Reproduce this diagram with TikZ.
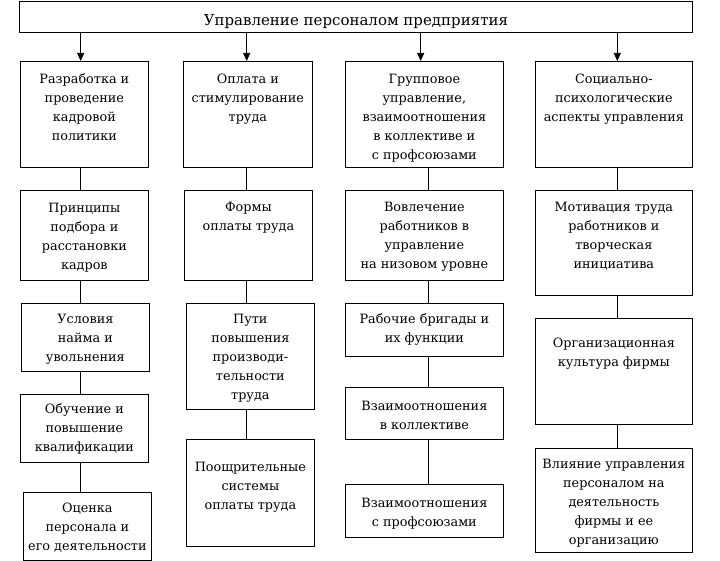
\documentclass[tikz,border=0pt]{standalone}
\usepackage{fontspec}
\setmainfont{DejaVu Serif}
\usetikzlibrary{arrows.meta}

\newcommand{\celltext}[4]{\parbox[c][#2pt][t]{#1pt}{\centering\rule{0pt}{#3pt}#4}}

\begin{document}
\begin{tikzpicture}[x=1pt, y=-1pt, line width=0.75pt,
  blk/.style={draw, inner sep=0pt, anchor=north west, font=\fontsize{12.8}{19}\selectfont},
  arr/.style={-{Triangle[length=8pt,width=7pt]}}]

\useasboundingbox (0,0) rectangle (720,561);

\node[blk, font=\fontsize{15}{22}\selectfont] (upr) at (19,1) {\celltext{673}{31}{24}{Управление персоналом предприятия}};

% column lines
\coordinate (xa) at (80.7,0);
\coordinate (xb) at (246.7,0);
\coordinate (xc0) at (420.7,0);
\coordinate (xc) at (428.3,0);
\coordinate (xd) at (617.3,0);

\node[blk] (a1) at (20,61) {\celltext{128}{106}{22}{Разработка и\\ проведение\\ кадровой\\ политики}};
\node[blk] (a2) at (20,190) {\celltext{128}{90}{21.7}{Принципы\\ подбора и\\ расстановки\\ кадров}};
\node[blk] (a3) at (21,303) {\celltext{128}{68}{20}{Условия\\ найма и\\ увольнения}};
\node[blk] (a4) at (20,394) {\celltext{128}{68}{19}{Обучение и\\ повышение\\ квалификации}};
\node[blk] (a5) at (23,492) {\celltext{128}{68}{20}{Оценка\\ персонала и\\ его деятельности}};

\node[blk] (b1) at (183,61) {\celltext{129}{106}{22}{Оплата и\\ стимулирование\\ труда}};
\node[blk] (b2) at (184,190) {\celltext{128}{90}{21}{Формы\\ оплаты труда}};
\node[blk] (b3) at (186,303) {\celltext{128}{106}{20}{Пути\\ повышения\\ производи-\\ тельности\\ труда}};
\node[blk] (b4) at (186,439) {\celltext{128}{107}{31.7}{Поощрительные\\ системы\\ оплаты труда}};

\node[blk] (c1) at (345,61) {\celltext{158}{106}{22}{Групповое\\ управление,\\ взаимоотношения\\ в коллективе и\\ с профсоюзами}};
\node[blk] (c2) at (345,190) {\celltext{158}{90}{21}{Вовлечение\\ работников в\\ управление\\ на низовом уровне}};
\node[blk] (c3) at (345,303) {\celltext{158}{53}{20}{Рабочие бригады и\\ их функции}};
\node[blk] (c4) at (345,387) {\celltext{158}{52}{23}{Взаимоотношения\\ в коллективе}};
\node[blk] (c5) at (345,484) {\celltext{158}{53}{22.7}{Взаимоотношения\\ с профсоюзами}};

\node[blk] (d1) at (535,61) {\celltext{157}{106}{22}{Социально-\\ психологические\\ аспекты управления}};
\node[blk] (d2) at (535,190) {\celltext{157}{105}{21}{Мотивация труда\\ работников и\\ творческая\\ инициатива}};
\node[blk] (d3) at (535,318) {\celltext{157}{106}{28.7}{Организационная\\ культура фирмы}};
\node[blk] (d4) at (535,448) {\celltext{157}{104}{20.3}{Влияние управления\\ персоналом на\\ деятельность\\ фирмы и ее\\ организацию}};

\path[arr] (upr.south -| xa) edge (a1.north -| xa);
\path[arr] (upr.south -| xb) edge (b1.north -| xb);
\path[arr] (upr.south -| xc0) edge (c1.north -| xc0);
\path[arr] (upr.south -| xd) edge (d1.north -| xd);

\path (a1.south -| xa) edge (a2.north -| xa);
\path (a2.south -| xa) edge (a3.north -| xa);
\path (a3.south -| xa) edge (a4.north -| xa);
\path (a4.south -| xa) edge (a5.north -| xa);

\path (b1.south -| xb) edge (b2.north -| xb);
\path (b2.south -| xb) edge (b3.north -| xb);
\path (b3.south -| xb) edge (b4.north -| xb);

\path (c1.south -| xc) edge (c2.north -| xc);
\path (c2.south -| xc) edge (c3.north -| xc);
\path (c3.south -| xc) edge (c4.north -| xc);
\path (c4.south -| xc) edge (c5.north -| xc);

\path (d1.south -| xd) edge (d2.north -| xd);
\path (d2.south -| xd) edge (d3.north -| xd);
\path (d3.south -| xd) edge (d4.north -| xd);

\end{tikzpicture}
\end{document}
